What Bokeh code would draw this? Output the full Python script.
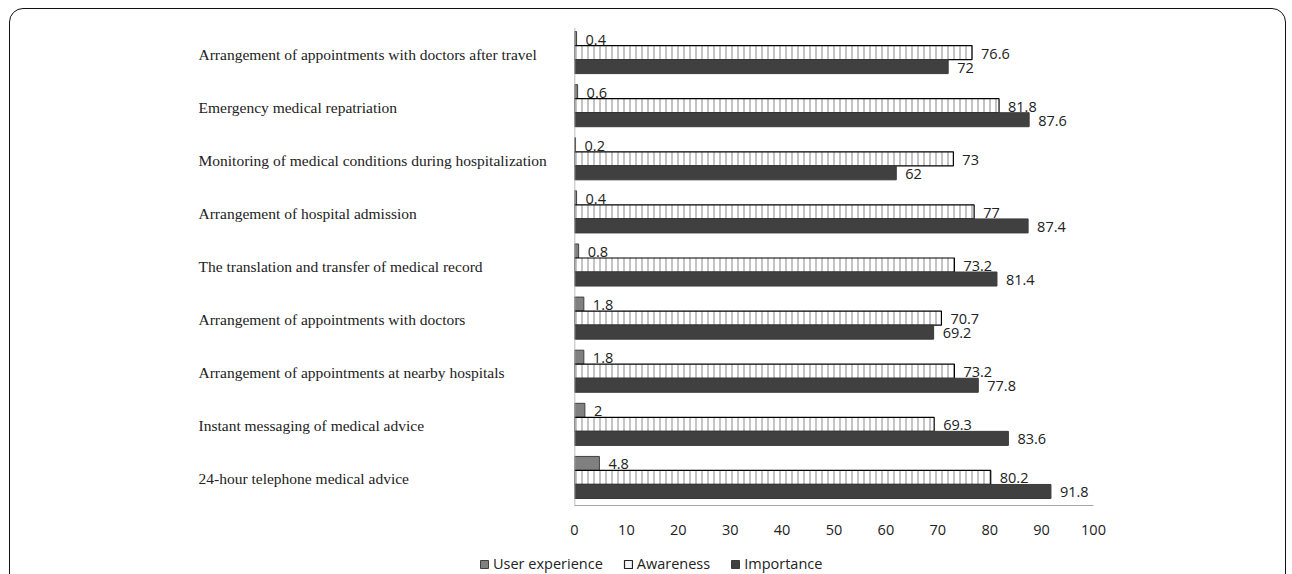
from bokeh.plotting import figure
from bokeh.layouts import row, column
from bokeh.models import (FactorRange, Range1d, ColumnDataSource, Legend,
                          LegendItem, FixedTicker, InlineStyleSheet, Span)
from bokeh.transform import dodge
from bokeh.core.properties import value
from bokeh.embed import file_html
from bokeh.resources import INLINE

# ---- data (listed top to bottom as in the chart) ----
categories = [
    "Arrangement of appointments with doctors after travel",
    "Emergency medical repatriation",
    "Monitoring of medical conditions during hospitalization",
    "Arrangement of hospital admission",
    "The translation and transfer of medical record",
    "Arrangement of appointments with doctors",
    "Arrangement of appointments at nearby hospitals",
    "Instant messaging of medical advice",
    "24-hour telephone medical advice",
]
user_experience = [0.4, 0.6, 0.2, 0.4, 0.8, 1.8, 1.8, 2, 4.8]
awareness = [76.6, 81.8, 73, 77, 73.2, 70.7, 73.2, 69.3, 80.2]
importance = [72, 87.6, 62, 87.4, 81.4, 69.2, 77.8, 83.6, 91.8]
series_names = ["User experience", "Awareness", "Importance"]
x_ticks = [0, 10, 20, 30, 40, 50, 60, 70, 80, 90, 100]


def fmt(v):
    return str(int(v)) if float(v).is_integer() else str(v)


src = ColumnDataSource(dict(
    cat=categories,
    ue=user_experience, aw=awareness, imp=importance,
    ue_t=[fmt(v) for v in user_experience],
    aw_t=[fmt(v) for v in awareness],
    imp_t=[fmt(v) for v in importance],
))

W, H = 1292, 574
LEG_H = 24                    # height of the legend strip at the bottom
TOP_H = H - LEG_H
FL, FR, FT, FB = 574, 1093, 27, 505
GAP = 20                      # blank space kept left of the main frame
LEFT_W = FL - GAP             # width of the label panel
LABEL_X = 198                 # left edge of the category labels

# styles
UE_FILL, UE_LINE = "#808080", "#404040"
AW_FILL, AW_HATCH, AW_LINE = "white", "#c4c4c4", "black"
IM_FILL, IM_LINE = "#404040", "#3a3a3a"
AXIS_C = "#a6a6a6"
TXT = "#222222"

y_range = FactorRange(factors=list(reversed(categories)))

# ---- label panel (left) ----
pl = figure(y_range=y_range, x_range=Range1d(0, LEFT_W), width=LEFT_W, height=TOP_H,
            min_border_left=0, min_border_right=0, min_border_top=FT,
            min_border_bottom=TOP_H - FB, output_backend="svg", toolbar_location=None)
pl.text(x=[LABEL_X] * len(categories), y=categories, text=categories,
        text_align="left", text_baseline="middle",
        text_font=value("Liberation Serif"), text_font_size="15.5px", text_color=TXT)
pl.axis.visible = False
pl.grid.grid_line_color = None
pl.outline_line_color = None

# ---- main chart ----
p = figure(
    y_range=y_range, x_range=Range1d(0, 100),
    width=W - LEFT_W, height=TOP_H,
    min_border_left=GAP, min_border_right=W - FR,
    min_border_top=FT, min_border_bottom=TOP_H - FB,
    output_backend="svg", toolbar_location=None,
)

bh = 0.264
shift = 0.028
offs = [bh + shift, shift, -bh + shift]
p.hbar(y=dodge("cat", offs[0], range=p.y_range), left=0, right="ue", height=bh,
       fill_color=UE_FILL, line_color=UE_LINE, line_width=1, source=src)
p.hbar(y=dodge("cat", offs[1], range=p.y_range), left=0, right="aw", height=bh,
       fill_color=AW_FILL, hatch_pattern="vertical_line", hatch_color=AW_HATCH,
       hatch_scale=6, hatch_weight=2, line_color=AW_LINE, line_width=1.2, source=src)
p.hbar(y=dodge("cat", offs[2], range=p.y_range), left=0, right="imp", height=bh,
       fill_color=IM_FILL, line_color=IM_LINE, line_width=1, source=src)

val_font = value("Open Sans")
for col, txt, off in (("ue", "ue_t", offs[0]), ("aw", "aw_t", offs[1]), ("imp", "imp_t", offs[2])):
    p.text(x=col, y=dodge("cat", off, range=p.y_range), text=txt, source=src,
           x_offset=9, y_offset=1, text_baseline="middle", text_align="left",
           text_font=val_font, text_font_size="14.5px", text_color=TXT)

p.xaxis.ticker = FixedTicker(ticks=x_ticks)
p.xaxis.axis_line_color = AXIS_C
p.xaxis.major_tick_line_color = None
p.xaxis.minor_tick_line_color = None
p.xaxis.major_label_text_font = "Open Sans"
p.xaxis.major_label_text_font_size = "14.5px"
p.xaxis.major_label_text_color = TXT
p.xaxis.major_label_standoff = 13
# vertical category axis line (labels are drawn in the left panel)
p.yaxis.visible = False
p.add_layout(Span(location=0, dimension="height", line_color=AXIS_C, line_width=1.5))
p.xgrid.grid_line_color = None
p.ygrid.grid_line_color = None
p.outline_line_color = None

# ---- legend strip (bottom) ----
pg = figure(width=W, height=LEG_H, x_range=Range1d(0, 1), y_range=Range1d(0, 1),
            min_border_left=0, min_border_right=0, min_border_top=0, min_border_bottom=0,
            output_backend="svg", toolbar_location=None)
pg.axis.visible = False
pg.grid.grid_line_color = None
pg.outline_line_color = None
nan = float("nan")
g_ue = pg.hbar(y=[nan], right=[nan], height=0.5, fill_color=UE_FILL, line_color=UE_LINE)
g_aw = pg.hbar(y=[nan], right=[nan], height=0.5, fill_color="#f4f4f4", line_color="#222222",
               line_width=1.2)
g_im = pg.hbar(y=[nan], right=[nan], height=0.5, fill_color=IM_FILL, line_color=IM_LINE)
legend = Legend(items=[
    LegendItem(label=series_names[0], renderers=[g_ue]),
    LegendItem(label=series_names[1], renderers=[g_aw]),
    LegendItem(label=series_names[2], renderers=[g_im]),
], orientation="horizontal", location=(479, 1),
    label_text_font="Open Sans", label_text_font_size="14.5px", label_text_color=TXT,
    glyph_width=10, glyph_height=10, spacing=20, label_standoff=4, label_height=16,
    padding=0, margin=0, border_line_color=None, background_fill_alpha=0)
pg.add_layout(legend)

border_css = InlineStyleSheet(css="""
:host { position: relative; overflow: hidden; }
:host::after {
  content: ""; position: absolute; left: 9px; top: 8px; width: 1277px; height: 640px;
  box-sizing: border-box; border: 1.6px solid #111; border-radius: 14px;
  pointer-events: none;
}
""")
layout = column(row(pl, p, spacing=0), pg, spacing=0, stylesheets=[border_css])

open("out.html", "w").write(file_html(layout, INLINE))
